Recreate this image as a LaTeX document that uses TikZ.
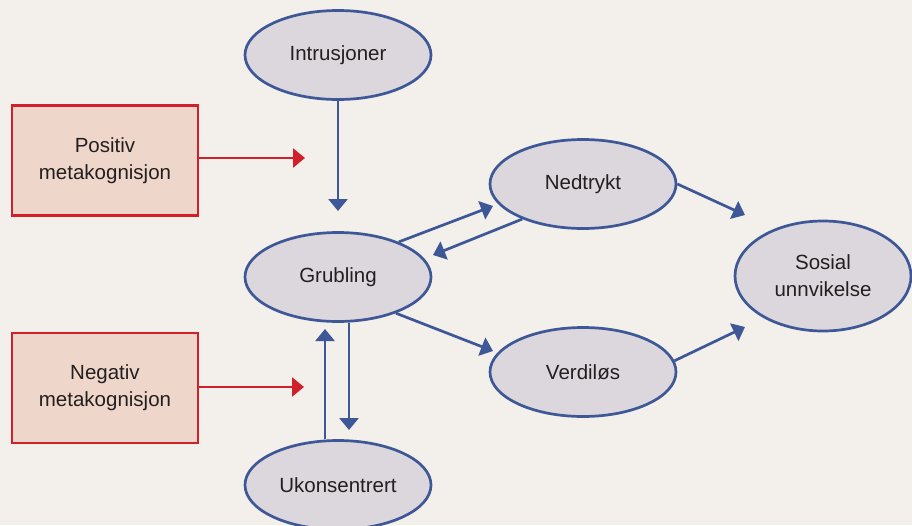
\documentclass[tikz,border=0pt]{standalone}
\usepackage{fontspec}
\setmainfont{Liberation Sans}
\usetikzlibrary{arrows.meta,shapes.geometric}
\definecolor{bg}{HTML}{F3EFEA}
\definecolor{ellfill}{HTML}{DCD7DD}
\definecolor{ellline}{HTML}{3D5797}
\definecolor{boxfill}{HTML}{EFD6CA}
\definecolor{boxline}{HTML}{D2202A}
\definecolor{txt}{HTML}{231F20}
\begin{document}
\begin{tikzpicture}[x=1pt,y=-1pt,
  every node/.style={font=\fontsize{20.5}{27}\selectfont, text=txt, align=center},
  ell/.style={ellipse, draw=ellline, fill=ellfill, line width=2.7pt, minimum width=186pt, minimum height=89pt, inner sep=0pt},
  ellbig/.style={ell, minimum width=176pt, minimum height=110pt},
  rbox/.style={rectangle, draw=boxline, fill=boxfill, line width=2.8pt, minimum width=186pt, minimum height=110pt, inner sep=0pt},
  barrow/.style={draw=ellline, line width=2.7pt, -{Triangle[length=12pt,width=19pt]}},
  rarrow/.style={draw=boxline, line width=2.7pt, -{Triangle[length=12pt,width=19pt]}}
]
\fill[bg] (0,0) rectangle (912,525);
\useasboundingbox (0,0) rectangle (912,525);

\node[ell] (intr) at (338,55) {Intrusjoner};
\node[ell] (grub) at (338,277) {Grubling};
\node[ell] (uko) at (338,485) {Ukonsentrert};
\node[ell] (ned) at (583,184) {Nedtrykt};
\node[ell] (verd) at (583,372) {Verdiløs};
\node[ellbig] (sos) at (823,276) {Sosial\\unnvikelse};
\node[rbox] (pos) at (105,160.5) {Positiv\\metakognisjon};
\node[rbox] (neg) at (105,388) {Negativ\\metakognisjon};

\coordinate (i1) at (338,211);
\coordinate (g1) at (493,206);
\coordinate (n1) at (433,255);
\coordinate (g2) at (493,351);
\coordinate (d1) at (349,430);
\coordinate (u1) at (325,329);
\coordinate (s1) at (745,215);
\coordinate (s2) at (745,327);
\coordinate (p1) at (305,158);
\coordinate (q1) at (304,387);

\draw[barrow] (intr.south) -- (i1);
\draw[barrow] (grub.30) -- (g1);
\draw[barrow] (ned.210) -- (n1);
\draw[barrow] (grub.-32) -- (g2);
\draw[barrow] (grub.south -| d1) -- (d1);
\draw[barrow] (uko.north -| u1) -- (u1);
\draw[barrow] (ned.east) -- (s1);
\draw[barrow] (verd.7) -- (s2);
\draw[rarrow] (pos.east |- p1) -- (p1);
\draw[rarrow] (neg.east |- q1) -- (q1);
\end{tikzpicture}
\end{document}
